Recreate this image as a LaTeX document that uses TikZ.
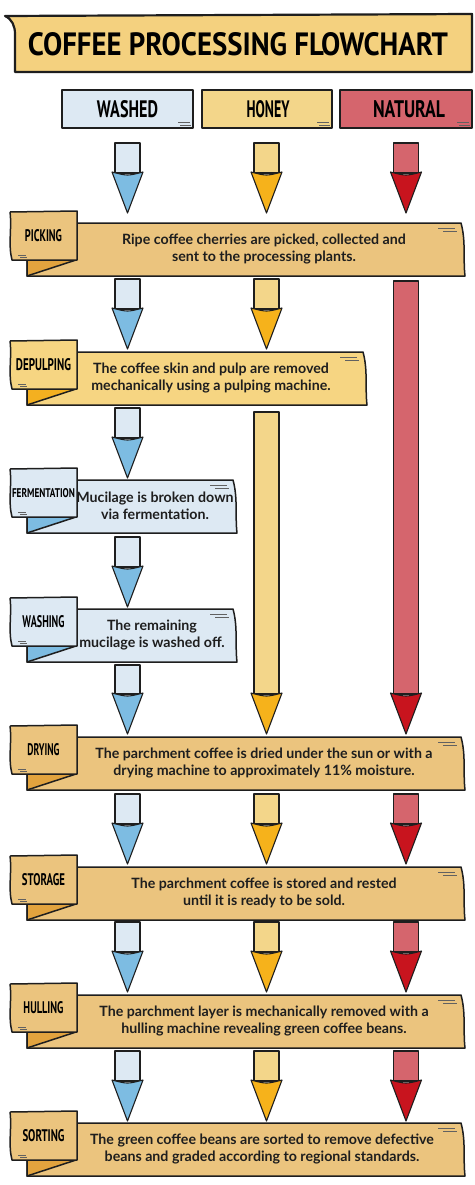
\documentclass[tikz,border=0pt]{standalone}
\usepackage{fontspec}
\setmainfont{Lato}
\newfontfamily\handfont{PT Sans}

\definecolor{ink}{HTML}{1E1E1E}
\definecolor{titlebg}{HTML}{F4D17F}
\definecolor{tanbg}{HTML}{EBC47E}
\definecolor{tandark}{HTML}{E2A33E}
\definecolor{yelbg}{HTML}{F6D582}
\definecolor{yeldark}{HTML}{F4B020}
\definecolor{bluebg}{HTML}{DDE9F3}
\definecolor{bluedark}{HTML}{7DBCE2}
\definecolor{wshlight}{HTML}{DDE9F3}
\definecolor{wshdark}{HTML}{7DBCE2}
\definecolor{hnylight}{HTML}{F3D68A}
\definecolor{hnydark}{HTML}{F6B21B}
\definecolor{natlight}{HTML}{D5656D}
\definecolor{natdark}{HTML}{C8141E}

% hand lettering: width, height, text
\newcommand{\handtext}[3]{\resizebox{#1}{#2}{\handfont\bfseries #3}}

% block arrow: x, top, tip, colour
\newcommand{\flowarrow}[4]{%
  \filldraw[fill=#4light, arrowline] ({#1-12.5},#2) rectangle ({#1+12.5},{#3-40});
  \filldraw[fill=#4dark, arrowline] ({#1-15.5},{#3-41}) .. controls (#1,{#3-37}) .. ({#1+15.5},{#3-41}) -- (#1,#3) -- cycle;
}

% step banner: name, top, right end, colour, label width, label height, label, text x, text
\newcommand{\stepbanner}[9]{%
  \filldraw[fill=#4bg, inkline] (60,#2) -- ({#3-4},#2) .. controls ({#3+1},{#2+18}) and ({#3-2},{#2+36}) .. (#3,{#2+53}) -- (27,{#2+53}) -- (27,{#2+37}) -- cycle;
  \filldraw[fill=#4dark, inkline] (27,{#2+37}) -- (76,{#2+37}) -- (27,{#2+53}) -- cycle;
  \filldraw[fill=#4bg, inkline] (10,{#2-11}) -- (77,{#2-12}) -- (77,{#2+37}) -- (12,{#2+37}) .. controls (8,{#2+22}) and (12,{#2+5}) .. (10,{#2-11});
  \draw[tickline] (18,{#2+32}) -- (26,{#2+32}) (20,{#2+34.5}) -- (27,{#2+34.5});
  \draw[tickline] ({#3-27},{#2+5}) -- ({#3-10},{#2+5}) ({#3-22},{#2+8}) -- ({#3-8},{#2+8});
  \node (#1-lbl) at (43.5,{#2+13}) {\handtext{#5}{#6}{#7}};
  \node[steptext] (#1) at (#8,{#2+26}) {#9};
}

\begin{document}
\begin{tikzpicture}[x=1pt,y=-1pt,
  inkline/.style={draw=ink,line width=1.5pt,line join=round},
  arrowline/.style={draw=ink,line width=1.1pt,line join=round},
  tickline/.style={draw=ink!70,line width=0.6pt},
  steptext/.style={text=ink,align=center,inner sep=0pt,
    font=\bfseries\fontsize{14.2}{17.5}\selectfont}]
  \useasboundingbox (0,0) rectangle (474,1185);
  \fill[white] (0,0) rectangle (474,1185);

  % title
  \filldraw[fill=titlebg, inkline, line width=2.2pt] (5,16) .. controls (12,19) and (15,26) .. (15,34) -- (15,72) -- (472,72) -- (472,14) -- cycle;
  \node (title) at (238,44) {\handtext{420pt}{23pt}{COFFEE PROCESSING FLOWCHART}};

  % methods
  \filldraw[fill=wshlight, inkline] (62,90) rectangle (193,128);
  \filldraw[fill=hnylight, inkline] (202,90) rectangle (332,128);
  \filldraw[fill=natlight, inkline] (340,90) rectangle (472,128);
  \draw[tickline] (178,122) -- (190,122) (180,125) -- (191,125);
  \draw[tickline] (317,122) -- (329,122) (319,125) -- (330,125);
  \draw[tickline] (457,122) -- (469,122) (459,125) -- (470,125);
  \node (washed) at (127.5,109) {\handtext{61pt}{17pt}{WASHED}};
  \node (honey) at (268,109) {\handtext{43pt}{17pt}{HONEY}};
  \node (natural) at (409,109) {\handtext{72pt}{17pt}{NATURAL}};

  % arrows
  \foreach \ya/\yb in {143/213, 279/349, 408/478, 537/607, 665/734, 794/864, 922/992, 1051/1121}
    \flowarrow{127.5}{\ya}{\yb}{wsh};
  \foreach \ya/\yb in {143/213, 279/349, 412/734, 794/864, 922/992, 1051/1121}
    \flowarrow{266.5}{\ya}{\yb}{hny};
  \foreach \ya/\yb in {143/213, 281/734, 794/864, 922/992, 1051/1121}
    \flowarrow{406}{\ya}{\yb}{nat};

  % steps
  \stepbanner{picking}{223}{465}{tan}{37pt}{12pt}{PICKING}{264}{Ripe coffee cherries are picked, collected and\\sent to the processing plants.}
  \stepbanner{depulping}{352}{367}{yel}{55pt}{12pt}{DEPULPING}{211}{The coffee skin and pulp are removed\\mechanically using a pulping machine.}
  \stepbanner{fermentation}{480}{237}{blue}{63pt}{9pt}{FERMENTATION}{155}{Mucilage is broken down\\via fermentation.}
  \stepbanner{washing}{609}{237}{blue}{42pt}{12pt}{WASHING}{152}{The remaining\\mucilage is washed off.}
  \stepbanner{drying}{737}{465}{tan}{32pt}{12pt}{DRYING}{264}{The parchment coffee is dried under the sun or with a\\drying machine to approximately 11\% moisture.}
  \stepbanner{storage}{867}{465}{tan}{43pt}{12pt}{STORAGE}{264}{The parchment coffee is stored and rested\\until it is ready to be sold.}
  \stepbanner{hulling}{995}{465}{tan}{40pt}{12pt}{HULLING}{264}{The parchment layer is mechanically removed with a\\hulling machine revealing green coffee beans.}
  \stepbanner{sorting}{1123}{465}{tan}{42pt}{12pt}{SORTING}{262}{The green coffee beans are sorted to remove defective\\beans and graded according to regional standards.}
\end{tikzpicture}
\end{document}
